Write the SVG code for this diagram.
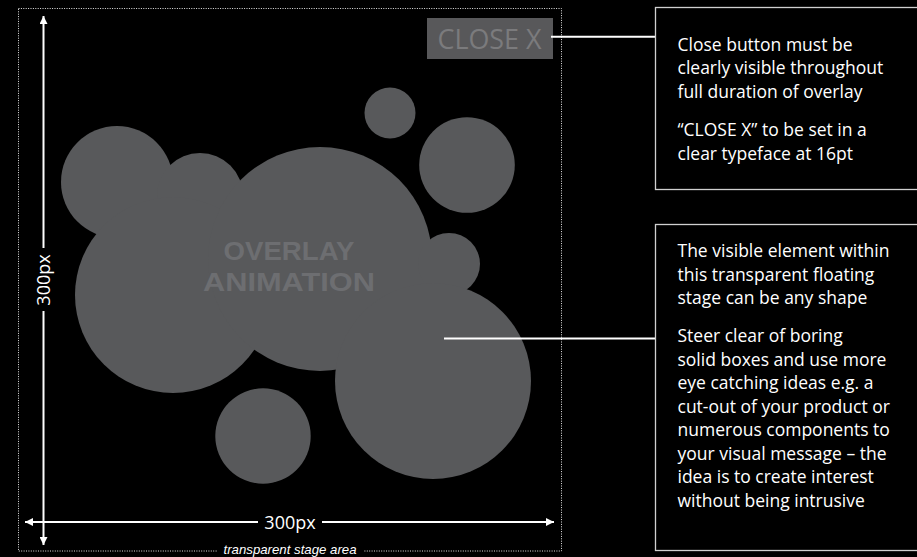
<svg xmlns="http://www.w3.org/2000/svg" width="917" height="557" viewBox="0 0 917 557">
  <style>
    .blob { fill: #58595b; }
    .note-box { fill: #000; stroke: #d0d0d0; stroke-width: 1.3; }
    .note { font-family: "Open Sans", "Liberation Sans", sans-serif; font-size: 17.5px; fill: #ffffff; }
    .dim { stroke: #ffffff; stroke-width: 2; fill: none; }
    .lead { stroke: #ffffff; stroke-width: 2; fill: none; }
    .dimtext { font-family: "Open Sans", "Liberation Sans", sans-serif; font-size: 18px; fill: #ffffff; }
    .title { font-family: "Liberation Sans", Arial, sans-serif; font-weight: bold; font-size: 26.5px; fill: #6d6e71; }
  </style>
  <defs>
    <marker id="arrow" viewBox="0 0 10 10" refX="10" refY="5" markerWidth="4" markerHeight="4" markerUnits="strokeWidth" orient="auto-start-reverse">
      <path d="M0,0 L10,5 L0,10 z" fill="#ffffff"/>
    </marker>
  </defs>
  <rect width="917" height="557" fill="#000"/>

  <!-- stage boundary -->
  <g id="stage">
    <rect x="18.5" y="8.5" width="543" height="542.5" fill="none" stroke="#e6e6e6" stroke-width="1" stroke-dasharray="1 1.4"/>
    <rect x="217" y="544" width="146" height="13" fill="#000"/>
    <text x="290" y="554" text-anchor="middle" font-family="'Liberation Sans', Arial, sans-serif" font-size="13.5" font-style="italic" fill="#ffffff" textLength="133" lengthAdjust="spacingAndGlyphs">transparent stage area</text>
  </g>

  <!-- animated shape cluster -->
  <g id="overlay-animation">
    <circle class="blob" cx="117" cy="182" r="56"/>
    <circle class="blob" cx="200" cy="196" r="43"/>
    <circle class="blob" cx="173" cy="295" r="98"/>
    <circle class="blob" cx="320" cy="259" r="112"/>
    <circle class="blob" cx="390" cy="113" r="25.5"/>
    <circle class="blob" cx="467" cy="165" r="47.8"/>
    <circle class="blob" cx="449" cy="264" r="31"/>
    <circle class="blob" cx="433" cy="381" r="98"/>
    <circle class="blob" cx="263" cy="436" r="47.7"/>
    <text class="title" x="289" y="259.5" text-anchor="middle" textLength="131" lengthAdjust="spacingAndGlyphs">OVERLAY</text>
    <text class="title" x="289" y="290.8" text-anchor="middle" textLength="172" lengthAdjust="spacingAndGlyphs">ANIMATION</text>
  </g>

  <!-- close button -->
  <g id="close-button">
    <rect x="427" y="18" width="126" height="41" fill="#58585a"/>
    <text x="489.5" y="49" text-anchor="middle" font-family="'Open Sans', 'Liberation Sans', sans-serif" font-size="28" fill="#7b7b7d" textLength="104" lengthAdjust="spacingAndGlyphs">CLOSE X</text>
  </g>

  <!-- dimension arrows -->
  <g id="dimensions">
    <line class="dim" x1="43.5" y1="248" x2="43.5" y2="16" marker-end="url(#arrow)"/>
    <line class="dim" x1="43.5" y1="311" x2="43.5" y2="545" marker-end="url(#arrow)"/>
    <text class="dimtext" transform="translate(50,280) rotate(-90)" text-anchor="middle">300px</text>
    <line class="dim" x1="258" y1="522" x2="25" y2="522" marker-end="url(#arrow)"/>
    <line class="dim" x1="322" y1="522" x2="554" y2="522" marker-end="url(#arrow)"/>
    <text class="dimtext" x="290" y="528.5" text-anchor="middle">300px</text>
  </g>

  <!-- leader lines -->
  <g id="connectors">
    <line class="lead" x1="551" y1="36.7" x2="655" y2="36.7"/>
    <line class="lead" x1="444" y1="338.5" x2="655" y2="338.5"/>
  </g>

  <!-- note: close button -->
  <g id="note-close">
    <rect class="note-box" x="655.5" y="7.5" width="270" height="182"/>
    <text class="note" x="677.5">
      <tspan x="677.5" y="50.5">Close button must be</tspan>
      <tspan x="677.5" y="74">clearly visible throughout</tspan>
      <tspan x="677.5" y="97.5">full duration of overlay</tspan>
      <tspan x="677.5" y="136">“CLOSE X” to be set in a</tspan>
      <tspan x="677.5" y="159.5">clear typeface at 16pt</tspan>
    </text>
  </g>

  <!-- note: stage content -->
  <g id="note-stage">
    <rect class="note-box" x="655.5" y="224.5" width="270" height="326"/>
    <text class="note" x="677.5">
      <tspan x="677.5" y="257">The visible element within</tspan>
      <tspan x="677.5" y="280.5">this transparent floating</tspan>
      <tspan x="677.5" y="304">stage can be any shape</tspan>
      <tspan x="677.5" y="342">Steer clear of boring</tspan>
      <tspan x="677.5" y="365.5">solid boxes and use more</tspan>
      <tspan x="677.5" y="389">eye catching ideas e.g. a</tspan>
      <tspan x="677.5" y="412.5">cut-out of your product or</tspan>
      <tspan x="677.5" y="436">numerous components to</tspan>
      <tspan x="677.5" y="459.5">your visual message – the</tspan>
      <tspan x="677.5" y="483">idea is to create interest</tspan>
      <tspan x="677.5" y="506.5">without being intrusive</tspan>
    </text>
  </g>
</svg>
